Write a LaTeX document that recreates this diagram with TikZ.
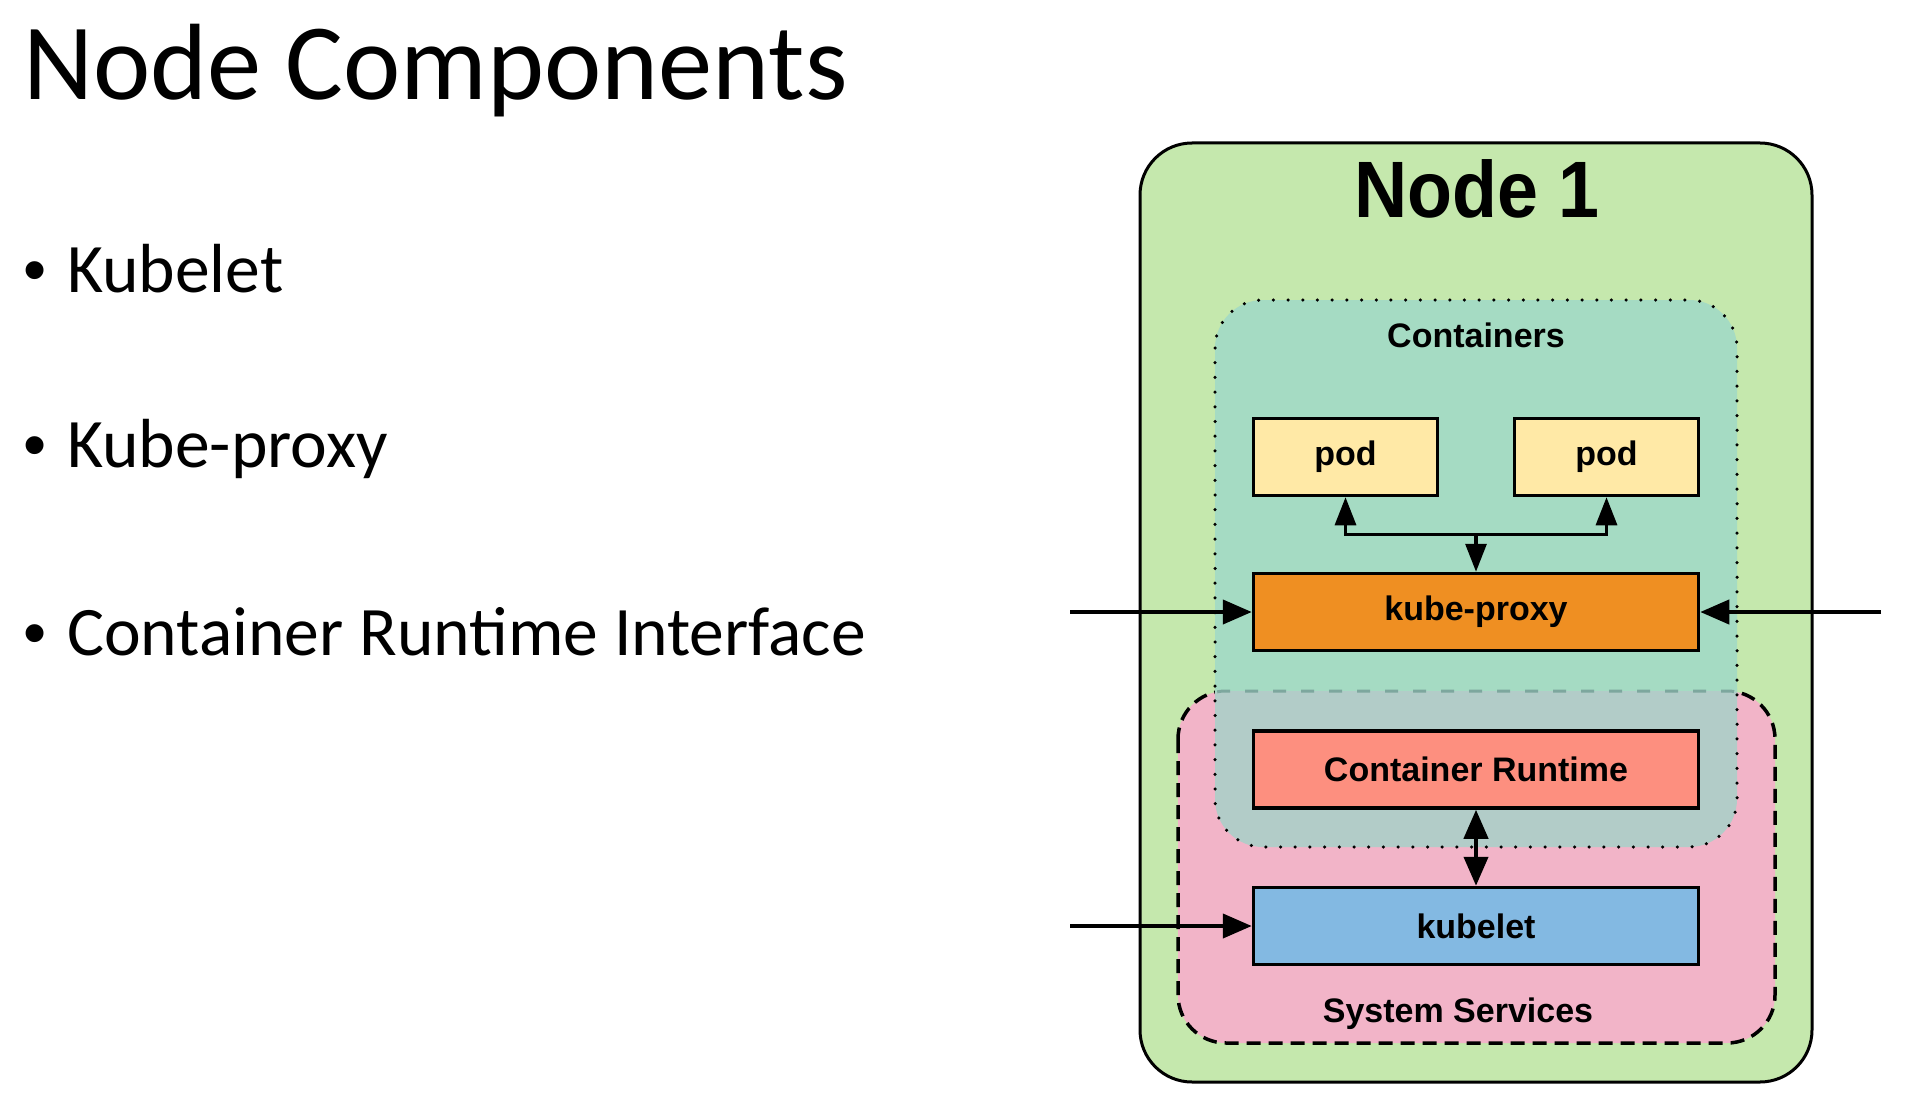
\documentclass[tikz,border=0pt]{standalone}
\usepackage{fontspec}
\usetikzlibrary{arrows.meta}
\newfontfamily\carl{Carlito}
\newfontfamily\lib{Liberation Sans}
\definecolor{nodegreen}{HTML}{C5E8AD}
\definecolor{contteal}{HTML}{A5DBC3}
\definecolor{syspink}{HTML}{F2B4C8}
\definecolor{overlapgray}{HTML}{B2CCC8}
\definecolor{overlapdash}{HTML}{7DA79E}
\definecolor{podyellow}{HTML}{FFE9A6}
\definecolor{proxyorange}{HTML}{EF8F22}
\definecolor{runtimesalmon}{HTML}{FD8F7F}
\definecolor{kubeletblue}{HTML}{83B9E2}
\tikzset{
  compbox/.style={draw=black, line width=3.5pt, inner sep=0pt, minimum height=77pt,
    font=\lib\bfseries\fontsize{34}{40}\selectfont},
  tipA/.tip={Triangle[length=29pt,width=24pt]},
  tipB/.tip={Triangle[length=28pt,width=21pt]},
  bullettext/.style={anchor=base west, inner sep=0pt, font=\carl\fontsize{69.5}{80}\selectfont},
  bulletdot/.style={anchor=base, inner sep=0pt, font=\lib\fontsize{66}{80}\selectfont},
  grouplabel/.style={anchor=base, inner sep=0pt, font=\lib\bfseries\fontsize{34}{40}\selectfont}
}
\begin{document}
\begin{tikzpicture}[x=1pt,y=-1pt]
\useasboundingbox (0,0) rectangle (1914,1110);
\fill[white] (0,0) rectangle (1914,1110);

% left text
\node[anchor=base west, inner sep=0pt, font=\carl\fontsize{108.5}{120}\selectfont] (title) at (23,100) {Node Components};
\node[bulletdot] (b1) at (35,292) {•};
\node[bullettext] (t1) at (67,292) {Kubelet};
\node[bulletdot] (b2) at (35,467) {•};
\node[bullettext] (t2) at (67,467) {Kube-proxy};
\node[bulletdot] (b3) at (35,655) {•};
\node[bullettext] (t3) at (67,655) {Container Runtime Interface};

% outer node box
\draw[fill=nodegreen, line width=3pt, rounded corners=52pt] (1140,143) rectangle (1812,1082);
\node[anchor=base, inner sep=0pt, font=\lib\bfseries\fontsize{80}{90}\selectfont] (n1) at (1477,218) {\scalebox{0.92}[1]{Node 1}};

% containers fill
\fill[contteal, rounded corners=48pt] (1215,300) rectangle (1737,847);
% system services fill + border
\fill[syspink, rounded corners=48pt] (1178,691) rectangle (1775,1043);
\draw[line width=3.5pt, dash pattern=on 14pt off 8pt, rounded corners=48pt] (1178,691) rectangle (1775,1043);
% overlap
\begin{scope}
  \clip[rounded corners=48pt] (1215,300) rectangle (1737,847);
  \draw[contteal, line width=7pt, rounded corners=48pt] (1178,691) rectangle (1775,1043);
  \fill[overlapgray, rounded corners=48pt] (1178,691) rectangle (1775,1043);
  \draw[overlapdash, line width=3pt, dash pattern=on 13pt off 15pt, rounded corners=48pt] (1178,691) rectangle (1775,1043);
\end{scope}
% containers dotted border
\draw[line width=3.5pt, dash pattern=on 0pt off 14.7pt, line cap=round, rounded corners=48pt] (1215,300) rectangle (1737,847);

\node[grouplabel] (contlbl) at (1476,347) {Containers};
\node[grouplabel] (syslbl) at (1458,1022) {System Services};

% component boxes
\node[compbox, fill=podyellow, minimum width=184pt] (pod1) at (1345.5,457) {pod};
\node[compbox, fill=podyellow, minimum width=184pt] (pod2) at (1606.5,457) {pod};
\node[compbox, fill=proxyorange, minimum width=445pt] (kp) at (1476,612) {kube-proxy};
\node[compbox, fill=runtimesalmon, minimum width=445pt] (cr) at (1476,769.5) {Container Runtime};
\node[compbox, fill=kubeletblue, minimum width=445pt] (kl) at (1476,926) {kubelet};

% connectors
\coordinate (j) at (1476,534.5);
\draw[line width=3.2pt, {tipB}-{tipB}] (pod1.south) |- (j) -| (pod2.south);
\draw[line width=3.2pt, -{tipB}] (j) -- (kp.north);
\draw[line width=4.2pt, {tipA}-{tipA}] (cr.south) -- (kl.north);
\coordinate (lin1) at (1070,612);
\coordinate (rin1) at (1881,612);
\coordinate (lin2) at (1070,926);
\draw[line width=4.2pt, -{tipA}] (lin1) -- (kp.west);
\draw[line width=4.2pt, -{tipA}] (rin1) -- (kp.east);
\draw[line width=4.2pt, -{tipA}] (lin2) -- (kl.west);
\end{tikzpicture}
\end{document}
